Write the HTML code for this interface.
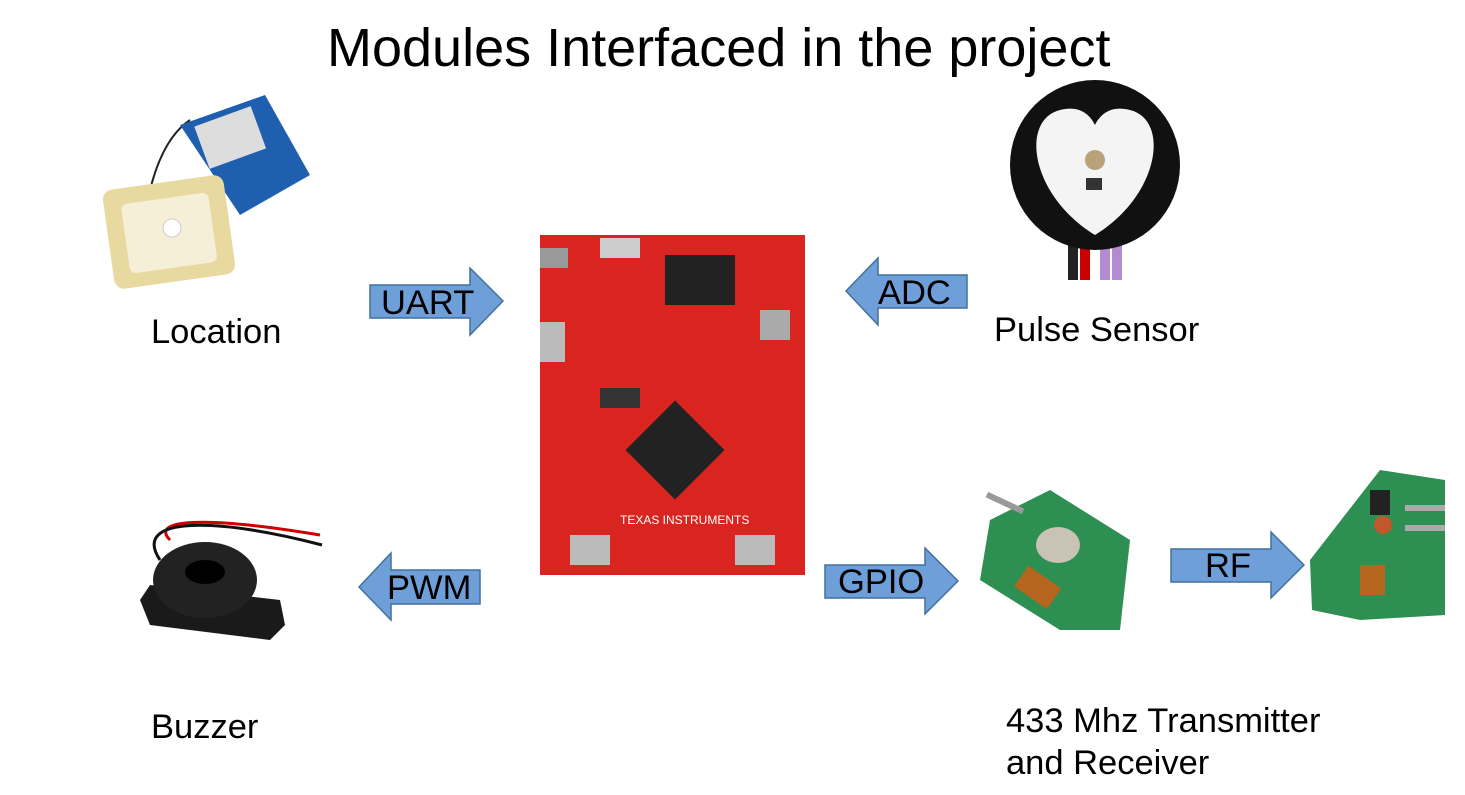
<!DOCTYPE html>
<html><head><meta charset="utf-8"><style>
html,body{margin:0;padding:0;background:#fff;}
body{width:1465px;height:795px;position:relative;overflow:hidden;font-family:"Liberation Sans",sans-serif;}
.t{position:absolute;color:#000;white-space:nowrap;}
</style></head><body>
<div class="t" style="left:327px;top:17px;font-size:54px;">Modules Interfaced in the project</div>
<div class="t" style="left:151px;top:313px;font-size:34.5px;">Location</div>
<div class="t" style="left:994px;top:311px;font-size:34.5px;">Pulse Sensor</div>
<div class="t" style="left:151px;top:708px;font-size:34.5px;">Buzzer</div>
<div class="t" style="left:1006px;top:700px;font-size:34.5px;line-height:42px;">433 Mhz Transmitter<br>and Receiver</div>
<svg width="1465" height="795" style="position:absolute;left:0;top:0">
<g fill="#6f9fd8" stroke="#41719c" stroke-width="1.5">
<polygon points="370,285 470,285 470,268 503,301 470,335 470,318 370,318"/>
<polygon points="967,275 878,275 878,258 846,291 878,325 878,308 967,308"/>
<polygon points="480,570 391,570 391,553 359,587 391,620 391,604 480,604"/>
<polygon points="825,565 925,565 925,548 958,581 925,614 925,598 825,598"/>
<polygon points="1171,549 1271,549 1271,532 1304,565 1271,598 1271,582 1171,582"/>
</g>
<g font-family="Liberation Sans, sans-serif" font-size="34.5" fill="#000">
<text x="381" y="314">UART</text>
<text x="878" y="304">ADC</text>
<text x="387" y="599">PWM</text>
<text x="838" y="593">GPIO</text>
<text x="1205" y="577">RF</text>
</g>
<!-- GPS -->
<path d="M150,190 C160,150 175,130 190,120" stroke="#222" stroke-width="2" fill="none"/>
<polygon points="180,125 265,95 310,175 240,215" fill="#1f5fb0"/>
<rect x="200" y="115" width="60" height="45" fill="#ddd" transform="rotate(-20 230 137)"/>
<rect x="108" y="182" width="122" height="100" rx="10" fill="#e8d9a0" transform="rotate(-8 169 232)"/>
<rect x="125" y="198" width="88" height="70" rx="6" fill="#f5efd8" transform="rotate(-8 169 232)"/>
<circle cx="172" cy="228" r="9" fill="#fff" stroke="#ccc"/>
<!-- pulse sensor -->
<rect x="1068" y="225" width="10" height="55" fill="#222"/><rect x="1080" y="225" width="10" height="55" fill="#c00"/><rect x="1100" y="225" width="10" height="55" fill="#b48ad0"/><rect x="1112" y="225" width="10" height="55" fill="#b48ad0"/>
<circle cx="1095" cy="165" r="85" fill="#111"/>
<path d="M1095,235 C1030,195 1020,120 1060,110 C1080,105 1090,115 1095,125 C1100,115 1110,105 1130,110 C1170,120 1160,195 1095,235Z" fill="#f4f4f4"/>
<circle cx="1095" cy="160" r="10" fill="#b9a27a"/><rect x="1086" y="178" width="16" height="12" fill="#333"/>
<!-- board -->
<rect x="540" y="235" width="265" height="340" fill="#d9241f"/>
<rect x="665" y="255" width="70" height="50" fill="#222"/>
<rect x="540" y="248" width="28" height="20" fill="#999"/>
<rect x="600" y="238" width="40" height="20" fill="#ccc"/>
<rect x="540" y="322" width="25" height="40" fill="#bbb"/>
<rect x="760" y="310" width="30" height="30" fill="#aaa"/>
<rect x="640" y="415" width="70" height="70" fill="#222" transform="rotate(45 675 450)"/>
<rect x="600" y="388" width="40" height="20" fill="#333"/>
<rect x="570" y="535" width="40" height="30" fill="#bbb"/><rect x="735" y="535" width="40" height="30" fill="#bbb"/>
<text x="620" y="524" font-size="12" fill="#fff" font-family="Liberation Sans">TEXAS INSTRUMENTS</text>
<!-- buzzer -->
<path d="M170,540 C150,520 200,515 320,535" stroke="#c00" stroke-width="3" fill="none"/>
<path d="M160,560 C130,515 220,518 322,545" stroke="#111" stroke-width="3" fill="none"/>
<polygon points="140,600 150,585 280,600 285,625 270,640 150,625" fill="#1a1a1a"/>
<ellipse cx="205" cy="580" rx="52" ry="38" fill="#222"/>
<ellipse cx="205" cy="572" rx="20" ry="12" fill="#000"/>
<!-- transmitter -->
<polygon points="990,520 1050,490 1130,540 1120,630 1060,630 980,580" fill="#2d8f52"/>
<rect x="985" y="500" width="40" height="6" fill="#999" transform="rotate(25 1005 503)"/>
<ellipse cx="1058" cy="545" rx="22" ry="18" fill="#c9c3b5"/>
<rect x="1018" y="575" width="40" height="25" fill="#b5651d" transform="rotate(35 1038 587)"/>
<!-- receiver -->
<polygon points="1310,560 1380,470 1445,480 1445,615 1360,620 1312,610" fill="#2d8f52"/>
<rect x="1405" y="505" width="40" height="6" fill="#aaa"/><rect x="1405" y="525" width="40" height="6" fill="#aaa"/>
<rect x="1370" y="490" width="20" height="25" fill="#222"/>
<circle cx="1383" cy="525" r="9" fill="#c0582b"/>
<rect x="1360" y="565" width="25" height="30" fill="#b5651d"/>
</svg>
</body></html>
